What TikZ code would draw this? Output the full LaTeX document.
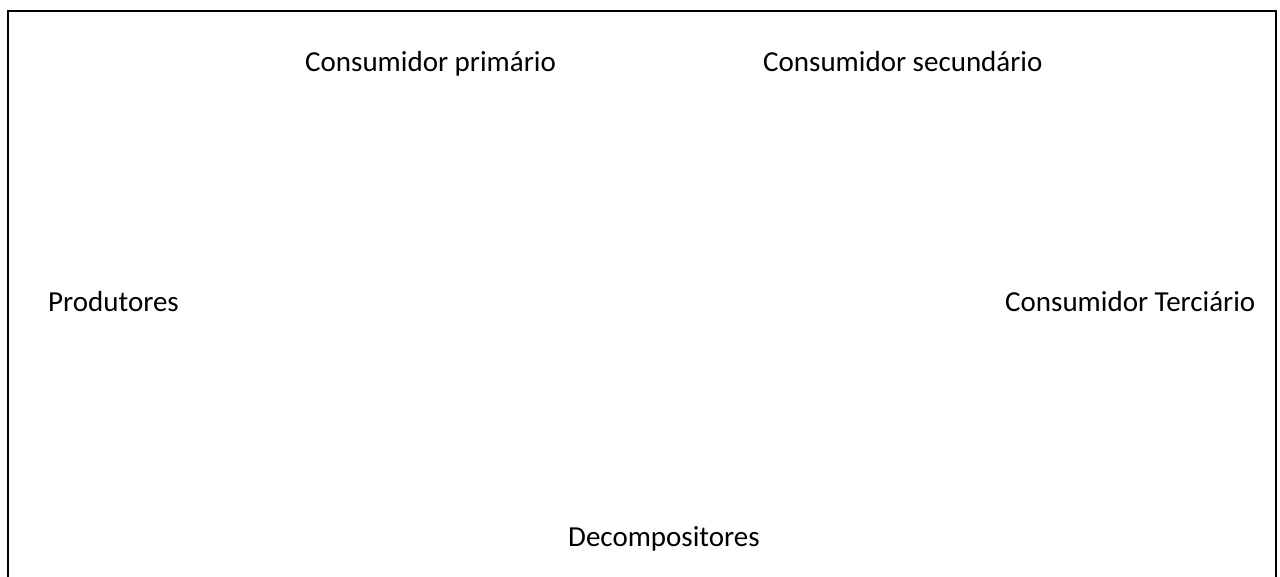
\documentclass[tikz,border=0pt]{standalone}
\usepackage{fontspec}
\setmainfont{Carlito}
\begin{document}
\begin{tikzpicture}[x=1pt,y=1pt,
  lbl/.style={anchor=base west,inner sep=0pt,font=\fontsize{29}{34}\selectfont,text=black},
  frame/.style={draw=black,line width=1.4pt}]
\useasboundingbox (0,0) rectangle (1280,576);
\draw[frame] (8,-20) -- (8,565) -- (1276,565) -- (1276,-20);
\node[lbl] (cp) at (305,504) {Consumidor primário};
\node[lbl] (cs) at (763,504) {Consumidor secundário};
\node[lbl] (pr) at (48,264) {Produtores};
\node[lbl] (ct) at (1005,264) {Consumidor Terciário};
\node[lbl] (de) at (568,30) {Decompositores};
\end{tikzpicture}
\end{document}
